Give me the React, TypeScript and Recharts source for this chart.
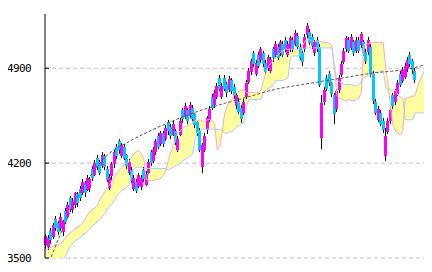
import React from "react";
import { ComposedChart, Bar, Area, Line, XAxis, YAxis, CartesianGrid } from "recharts";

// daily candles (152) + cloud runs 4 days further
const opens = [
  3590, 3580, 3700, 3650, 3790, 3760, 3720, 3690, 3850, 3800,
  3940, 3850, 3890, 3970, 4010, 3980, 4060, 4000, 4010, 4160,
  4110, 4240, 4210, 4180, 4250, 4160, 4020, 4100, 4190, 4320,
  4360, 4250, 4320, 4260, 4130, 4150, 4010, 4060, 4030, 4020,
  4150, 4040, 4130, 4280, 4220, 4280, 4400, 4340, 4420, 4380,
  4500, 4470, 4410, 4440, 4300, 4410, 4590, 4540, 4590, 4550,
  4610, 4560, 4500, 4440, 4170, 4300, 4440, 4520, 4690, 4630,
  4690, 4830, 4690, 4830, 4780, 4740, 4810, 4760, 4620, 4660,
  4610, 4570, 4690, 4800, 4870, 5010, 4860, 5000, 4960, 5010,
  4940, 4900, 4880, 5040, 5000, 5060, 5010, 5080, 5110, 5000,
  5040, 5110, 5080, 5140, 5060, 5010, 5040, 5140, 5170, 5130,
  5010, 5110, 5060, 4380, 4650, 4830, 4860, 4790, 4700, 4600,
  4740, 4850, 4950, 5040, 5110, 5050, 5090, 5030, 5110, 5070,
  5090, 5020, 5020, 5060, 4860, 4650, 4520, 4570, 4510, 4250,
  4430, 4510, 4700, 4650, 4710, 4860, 4810, 4840, 4890, 5000,
  4950, 4880,
];
const closes = [
  3660, 3650, 3630, 3740, 3720, 3690, 3800, 3770, 3770, 3890,
  3860, 3920, 3980, 3900, 3940, 4060, 3980, 4090, 4080, 4090,
  4200, 4170, 4130, 4260, 4170, 4080, 4100, 4190, 4280, 4250,
  4290, 4330, 4240, 4180, 4210, 4070, 4090, 3990, 4110, 4090,
  4080, 4120, 4210, 4200, 4300, 4360, 4320, 4420, 4340, 4460,
  4430, 4400, 4490, 4350, 4380, 4510, 4520, 4620, 4510, 4630,
  4530, 4480, 4420, 4300, 4330, 4400, 4530, 4600, 4610, 4720,
  4770, 4750, 4770, 4750, 4710, 4820, 4730, 4690, 4700, 4580,
  4530, 4650, 4790, 4880, 4950, 4930, 4940, 4920, 5040, 4930,
  4870, 4980, 4960, 4970, 5080, 4980, 5090, 5000, 5040, 5080,
  5120, 5040, 5160, 5060, 4980, 4940, 5130, 5210, 5090, 5060,
  5090, 5040, 4780, 4640, 4740, 4750, 4790, 4710, 4560, 4730,
  4830, 4930, 5030, 5120, 5030, 5130, 5010, 5110, 5030, 5150,
  5010, 4950, 5110, 4860, 4660, 4570, 4600, 4490, 4440, 4400,
  4510, 4590, 4620, 4730, 4790, 4780, 4890, 4920, 4960, 4930,
  4880, 4810,
];
const highs = [
  3680, 3670, 3720, 3760, 3810, 3770, 3830, 3780, 3870, 3910,
  3960, 3940, 3990, 3990, 4030, 4080, 4070, 4110, 4100, 4180,
  4220, 4260, 4220, 4280, 4270, 4180, 4120, 4210, 4300, 4340,
  4380, 4350, 4340, 4270, 4230, 4170, 4110, 4080, 4130, 4110,
  4170, 4140, 4230, 4300, 4320, 4380, 4420, 4440, 4440, 4480,
  4520, 4490, 4510, 4450, 4400, 4530, 4610, 4640, 4610, 4650,
  4630, 4570, 4510, 4460, 4350, 4420, 4550, 4620, 4710, 4740,
  4790, 4850, 4790, 4850, 4800, 4840, 4830, 4780, 4720, 4680,
  4630, 4670, 4810, 4900, 4970, 5030, 4960, 5020, 5060, 5030,
  4960, 5000, 4980, 5060, 5100, 5080, 5110, 5100, 5130, 5100,
  5140, 5130, 5180, 5160, 5080, 5030, 5150, 5230, 5190, 5150,
  5110, 5130, 5080, 4700, 4760, 4850, 4880, 4800, 4720, 4750,
  4850, 4950, 5050, 5140, 5130, 5150, 5110, 5130, 5130, 5170,
  5110, 5040, 5130, 5080, 4880, 4670, 4620, 4590, 4530, 4460,
  4530, 4610, 4720, 4750, 4810, 4880, 4910, 4940, 4980, 5020,
  4970, 4900,
];
const lows = [
  3570, 3560, 3600, 3640, 3700, 3670, 3700, 3660, 3750, 3790,
  3840, 3830, 3870, 3880, 3920, 3960, 3950, 3990, 3990, 4070,
  4100, 4150, 4110, 4160, 4150, 4060, 4000, 4080, 4170, 4230,
  4270, 4240, 4220, 4160, 4110, 4050, 3990, 3980, 4020, 4000,
  4060, 4030, 4120, 4180, 4200, 4260, 4300, 4330, 4320, 4360,
  4410, 4380, 4400, 4330, 4280, 4400, 4500, 4520, 4490, 4530,
  4510, 4460, 4400, 4280, 4130, 4280, 4420, 4500, 4590, 4610,
  4670, 4730, 4670, 4730, 4690, 4720, 4710, 4670, 4600, 4560,
  4500, 4550, 4670, 4780, 4850, 4910, 4840, 4900, 4940, 4910,
  4850, 4880, 4860, 4950, 4980, 4960, 4990, 4980, 5020, 4980,
  5020, 5020, 5060, 5040, 4960, 4920, 5020, 5120, 5070, 5040,
  4990, 5020, 4760, 4300, 4630, 4730, 4770, 4690, 4490, 4580,
  4720, 4830, 4930, 5020, 5010, 5030, 4990, 5010, 5010, 5050,
  4990, 4930, 5000, 4840, 4640, 4550, 4500, 4470, 4420, 4220,
  4410, 4490, 4600, 4630, 4690, 4760, 4790, 4820, 4870, 4910,
  4860, 4790,
];

// ichimoku leading spans (pink = A, blue = B)
const spanA = [
  3560, 3570, 3580, 3590, 3600, 3600, 3610, 3630, 3650, 3670,
  3690, 3700, 3720, 3730, 3740, 3760, 3790, 3820, 3840, 3860,
  3870, 3890, 3930, 3960, 3990, 4020, 4040, 4070, 4100, 4130,
  4150, 4170, 4190, 4200, 4210, 4250, 4270, 4290, 4290, 4270,
  4230, 4080, 4070, 4070, 4070, 4080, 4080, 4090, 4110, 4150,
  4220, 4280, 4330, 4380, 4420, 4440, 4460, 4470, 4480, 4490,
  4500, 4510, 4510, 4520, 4510, 4510, 4520, 4520, 4510, 4480,
  4300, 4320, 4420, 4560, 4620, 4650, 4670, 4700, 4720, 4730,
  4740, 4740, 4720, 4720, 4720, 4720, 4720, 4720, 4740, 4810,
  4870, 4910, 4940, 4960, 4980, 5000, 5020, 5030, 5040, 5040,
  5040, 5040, 5040, 5040, 5050, 5070, 5100, 5110, 5110, 5100,
  5100, 5100, 5100, 5090, 5090, 5090, 5080, 5070, 4900, 4700,
  4680, 4670, 4660, 4660, 4670, 4660, 4660, 4670, 4680, 4720,
  5070, 5080, 5080, 5090, 5090, 5090, 5090, 5090, 5090, 4900,
  4780, 4600, 4480, 4440, 4420, 4410, 4440, 4680, 4680, 4690,
  4690, 4700, 4760, 4810, 4850, 4890,
];
const spanB = [
  3480, 3480, 3480, 3490, 3490, 3490, 3490, 3500, 3510, 3560,
  3590, 3610, 3630, 3640, 3650, 3670, 3680, 3700, 3720, 3740,
  3750, 3770, 3790, 3810, 3830, 3860, 3880, 3900, 3930, 3960,
  3980, 4000, 4010, 4020, 4040, 4120, 4160, 4170, 4170, 4170,
  4160, 4160, 4160, 4160, 4160, 4160, 4160, 4160, 4160, 4160,
  4150, 4160, 4170, 4180, 4190, 4200, 4220, 4230, 4240, 4250,
  4270, 4380, 4430, 4440, 4450, 4450, 4450, 4450, 4450, 4450,
  4450, 4450, 4440, 4420, 4420, 4430, 4430, 4450, 4470, 4480,
  4490, 4500, 4620, 4670, 4670, 4670, 4670, 4670, 4670, 4720,
  4740, 4750, 4760, 4780, 4810, 4810, 4810, 4810, 4820, 4830,
  4980, 4990, 4990, 4990, 5000, 5040, 5050, 5050, 5050, 5050,
  5050, 5050, 5050, 5050, 5050, 5050, 5050, 5050, 4900, 4810,
  4800, 4790, 4780, 4780, 4780, 4780, 4770, 4770, 4780, 4800,
  4830, 4840, 4850, 4850, 4860, 4870, 4870, 4880, 4880, 4760,
  4740, 4740, 4740, 4740, 4700, 4690, 4680, 4520, 4520, 4520,
  4520, 4570, 4570, 4570, 4570, 4570,
];

// long-term trend curve, read at a few days: [day, price]
const trendPoints = [
  [2, 3507], [13, 3955], [20, 4155], [26, 4275], [33, 4350],
  [49, 4490], [61, 4575], [73, 4640], [83, 4690], [94, 4745],
  [105, 4780], [118, 4818], [132, 4860], [151, 4905], [155, 4925],
];

const yTicks = [3500, 4200, 4900];

const UP = "#ff00ff";
const DOWN = "#00c8ff";

const trendMap = new Map(trendPoints.map(([d, v]) => [d, v]));

const data = spanA.map((a, i) => ({
  day: i,
  open: opens[i],
  high: highs[i],
  low: lows[i],
  close: closes[i],
  spanA: a,
  spanB: spanB[i],
  trend: trendMap.has(i) ? trendMap.get(i) : null,
}));

function Candle(props: any) {
  const { x, y, width, height, payload } = props;
  if (payload == null || payload.open == null) return null;
  const { open, close, high, low } = payload;
  const top = Math.min(y, y + height);
  const h = Math.abs(height);
  const k = high > low ? h / (high - low) : 0;
  const cx = Math.floor(x + width / 2);
  const bodyTop = Math.round(top + (high - Math.max(open, close)) * k);
  const bodyH = Math.max(1, Math.round(Math.abs(close - open) * k));
  return (
    <g>
      <rect x={cx} y={Math.round(top)} width={1} height={Math.round(h)} fill="#000" />
      <rect x={cx - 1} y={bodyTop} width={3} height={bodyH} fill={close >= open ? UP : DOWN} />
    </g>
  );
}

function YTick(props: any) {
  const { x, y, payload } = props;
  return (
    <g>
      <line x1={x + 14} x2={x + 18} y1={y} y2={y} stroke="#000" />
      <text
        x={x}
        y={y}
        dy={4}
        textAnchor="end"
        fontFamily="DejaVu Sans Mono"
        fontSize={11}
        letterSpacing={-0.6}
        fill="#000"
      >
        {payload.value}
      </text>
    </g>
  );
}

export default function App() {
  return (
    <ComposedChart
      width={424}
      height={264}
      data={data}
      margin={{ top: 6, right: 6, bottom: 14, left: 0 }}
      barCategoryGap={0}
      barGap={0}
    >
      <CartesianGrid
        vertical={false}
        horizontalValues={yTicks}
        stroke="#c0c0c0"
        strokeDasharray="4 3"
      />
      <XAxis dataKey="day" hide />
      <YAxis
        domain={[3500, 5300]}
        ticks={yTicks}
        interval={0}
        width={37}
        tickSize={0}
        tickMargin={14}
        tickLine={false}
        tick={<YTick />}
        axisLine={{ stroke: "#000" }}
        allowDataOverflow
      />
      <Area
        dataKey={(d: any) => [Math.min(d.spanA, d.spanB), Math.max(d.spanA, d.spanB)]}
        type="linear"
        fill="#ffffa0"
        fillOpacity={1}
        stroke="none"
        dot={false}
        activeDot={false}
        isAnimationActive={false}
      />
      <Line dataKey="spanA" type="linear" stroke="#ffa8c8" dot={false} activeDot={false} isAnimationActive={false} />
      <Line dataKey="spanB" type="linear" stroke="#a8ccff" dot={false} activeDot={false} isAnimationActive={false} />
      <Line
        dataKey="trend"
        type="monotone"
        connectNulls
        stroke="#555"
        strokeDasharray="3 2"
        dot={false}
        activeDot={false}
        isAnimationActive={false}
      />
      <Bar
        dataKey={(d: any) => (d.open == null ? null : [d.low, d.high])}
        shape={Candle}
        isAnimationActive={false}
      />
    </ComposedChart>
  );
}
